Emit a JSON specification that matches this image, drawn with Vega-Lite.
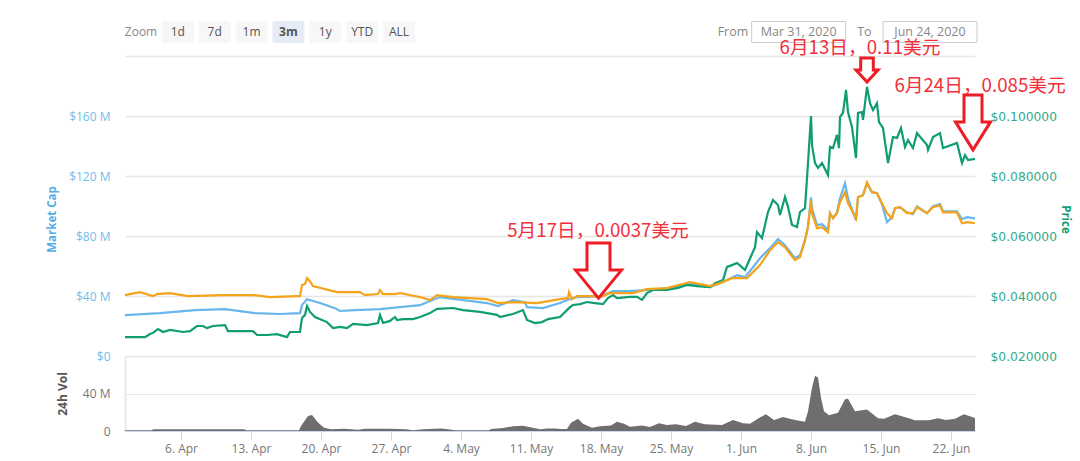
{
  "$schema": "https://vega.github.io/schema/vega-lite/v6.json",
  "background": "white",
  "padding": {"left": 46, "right": 5, "top": 21, "bottom": 25},
  "bounds": "flush",
  "spacing": 0,
  "config": {"view": {"stroke": null}, "font": "Open Sans"},
  "datasets": {
    "cap": [
      {"d":"2020-03-31T09:36","v":27.3},{"d":"2020-04-03T21:36","v":28.6},{"d":"2020-04-07T09:36","v":30.6},{"d":"2020-04-10T09:36","v":31.3},{"d":"2020-04-13T09:36","v":28.6},{"d":"2020-04-15T21:36","v":28.0},{"d":"2020-04-17T21:36","v":28.6},{"d":"2020-04-18T02:24","v":33.9},{"d":"2020-04-18T14:24","v":37.9},{"d":"2020-04-19T21:36","v":35.3},{"d":"2020-04-21T09:36","v":31.9},{"d":"2020-04-21T21:36","v":30.0},{"d":"2020-04-23T09:36","v":30.6},{"d":"2020-04-25T21:36","v":31.3},{"d":"2020-04-27T21:36","v":32.6},{"d":"2020-04-29T21:36","v":33.9},{"d":"2020-04-30T21:36","v":36.6},{"d":"2020-05-01T21:36","v":39.3},{"d":"2020-05-06T14:24","v":35.3},{"d":"2020-05-07T16:48","v":33.3},{"d":"2020-05-09T04:48","v":37.3},{"d":"2020-05-10T09:36","v":35.9},{"d":"2020-05-10T14:24","v":32.6},{"d":"2020-05-12T04:48","v":31.9},{"d":"2020-05-13T21:36","v":35.3},{"d":"2020-05-14T14:24","v":37.3},{"d":"2020-05-15T14:24","v":39.3},{"d":"2020-05-17T21:36","v":39.9},{"d":"2020-05-19T04:48","v":43.3},{"d":"2020-05-20T14:24","v":43.3},{"d":"2020-05-22T14:24","v":43.9},{"d":"2020-05-24T21:36","v":45.3},{"d":"2020-05-26T21:36","v":47.9},{"d":"2020-05-28T21:36","v":45.9},{"d":"2020-05-30T04:48","v":49.3},{"d":"2020-05-31T14:24","v":53.9},{"d":"2020-06-01T09:36","v":52.6},{"d":"2020-06-02T04:48","v":59.2},{"d":"2020-06-02T21:36","v":65.2},{"d":"2020-06-03T21:36","v":71.9},{"d":"2020-06-04T16:48","v":77.9},{"d":"2020-06-05T09:36","v":73.9},{"d":"2020-06-06T09:36","v":65.2},{"d":"2020-06-06T21:36","v":67.2},{"d":"2020-06-07T09:36","v":77.2},{"d":"2020-06-07T16:48","v":86.5},{"d":"2020-06-08T00:00","v":105.8},{"d":"2020-06-08T02:24","v":98.5},{"d":"2020-06-08T14:24","v":87.2},{"d":"2020-06-09T02:24","v":87.9},{"d":"2020-06-09T16:48","v":83.9},{"d":"2020-06-09T21:36","v":95.2},{"d":"2020-06-10T04:48","v":91.8},{"d":"2020-06-10T14:24","v":95.8},{"d":"2020-06-10T21:36","v":105.2},{"d":"2020-06-11T09:36","v":115.1},{"d":"2020-06-11T16:48","v":105.2},{"d":"2020-06-12T12:00","v":90.5},{"d":"2020-06-12T16:48","v":105.8},{"d":"2020-06-13T04:48","v":107.2},{"d":"2020-06-13T14:24","v":115.1},{"d":"2020-06-14T02:24","v":109.2},{"d":"2020-06-14T14:24","v":108.5},{"d":"2020-06-15T02:24","v":101.2},{"d":"2020-06-15T14:24","v":89.2},{"d":"2020-06-16T02:24","v":92.5},{"d":"2020-06-16T09:36","v":98.5},{"d":"2020-06-16T21:36","v":99.2},{"d":"2020-06-17T14:24","v":95.8},{"d":"2020-06-18T04:48","v":94.5},{"d":"2020-06-18T14:24","v":99.8},{"d":"2020-06-19T14:24","v":95.2},{"d":"2020-06-20T04:48","v":99.8},{"d":"2020-06-20T21:36","v":101.2},{"d":"2020-06-21T04:48","v":96.5},{"d":"2020-06-22T14:24","v":96.5},{"d":"2020-06-23T02:24","v":91.2},{"d":"2020-06-23T14:24","v":92.5},{"d":"2020-06-24T09:36","v":91.8}
    ],
    "price": [
      {"d":"2020-03-31T09:36","v":0.0263},{"d":"2020-04-01T09:36","v":0.0263},{"d":"2020-04-02T09:36","v":0.0263},{"d":"2020-04-02T21:36","v":0.0273},{"d":"2020-04-03T04:48","v":0.0277},{"d":"2020-04-03T16:48","v":0.029},{"d":"2020-04-04T04:48","v":0.028},{"d":"2020-04-04T21:36","v":0.0287},{"d":"2020-04-06T04:48","v":0.028},{"d":"2020-04-06T21:36","v":0.0283},{"d":"2020-04-07T14:24","v":0.03},{"d":"2020-04-08T04:48","v":0.03},{"d":"2020-04-08T14:24","v":0.0293},{"d":"2020-04-09T04:48","v":0.03},{"d":"2020-04-10T09:36","v":0.0303},{"d":"2020-04-10T16:48","v":0.0283},{"d":"2020-04-11T14:24","v":0.0283},{"d":"2020-04-13T04:48","v":0.0283},{"d":"2020-04-13T14:24","v":0.027},{"d":"2020-04-14T14:24","v":0.027},{"d":"2020-04-15T14:24","v":0.0273},{"d":"2020-04-16T14:24","v":0.0263},{"d":"2020-04-16T21:36","v":0.028},{"d":"2020-04-17T21:36","v":0.028},{"d":"2020-04-18T02:24","v":0.0327},{"d":"2020-04-18T09:36","v":0.0337},{"d":"2020-04-18T14:24","v":0.0367},{"d":"2020-04-18T21:36","v":0.0347},{"d":"2020-04-19T09:36","v":0.033},{"d":"2020-04-20T14:24","v":0.0313},{"d":"2020-04-21T04:48","v":0.0293},{"d":"2020-04-21T21:36","v":0.0297},{"d":"2020-04-22T14:24","v":0.0293},{"d":"2020-04-23T04:48","v":0.0307},{"d":"2020-04-24T14:24","v":0.0303},{"d":"2020-04-25T16:48","v":0.031},{"d":"2020-04-25T21:36","v":0.0337},{"d":"2020-04-26T04:48","v":0.031},{"d":"2020-04-26T21:36","v":0.0317},{"d":"2020-04-27T09:36","v":0.033},{"d":"2020-04-27T14:24","v":0.032},{"d":"2020-04-28T04:48","v":0.0323},{"d":"2020-04-29T04:48","v":0.0323},{"d":"2020-04-29T21:36","v":0.033},{"d":"2020-04-30T21:36","v":0.0343},{"d":"2020-05-01T14:24","v":0.0357},{"d":"2020-05-03T04:48","v":0.036},{"d":"2020-05-04T04:48","v":0.0353},{"d":"2020-05-05T21:36","v":0.0347},{"d":"2020-05-07T14:24","v":0.0337},{"d":"2020-05-07T21:36","v":0.033},{"d":"2020-05-09T04:48","v":0.034},{"d":"2020-05-10T04:48","v":0.0353},{"d":"2020-05-10T14:24","v":0.032},{"d":"2020-05-11T09:36","v":0.031},{"d":"2020-05-12T02:24","v":0.0313},{"d":"2020-05-12T16:48","v":0.0323},{"d":"2020-05-13T21:36","v":0.033},{"d":"2020-05-14T14:24","v":0.0353},{"d":"2020-05-14T21:36","v":0.0363},{"d":"2020-05-15T04:48","v":0.037},{"d":"2020-05-15T21:36","v":0.0373},{"d":"2020-05-16T14:24","v":0.038},{"d":"2020-05-17T04:48","v":0.0377},{"d":"2020-05-18T04:48","v":0.0373},{"d":"2020-05-18T16:48","v":0.0393},{"d":"2020-05-19T04:48","v":0.0403},{"d":"2020-05-19T14:24","v":0.0393},{"d":"2020-05-20T21:36","v":0.0397},{"d":"2020-05-21T14:24","v":0.0397},{"d":"2020-05-22T02:24","v":0.0387},{"d":"2020-05-22T14:24","v":0.041},{"d":"2020-05-23T04:48","v":0.042},{"d":"2020-05-24T14:24","v":0.042},{"d":"2020-05-25T16:48","v":0.0427},{"d":"2020-05-26T14:24","v":0.0437},{"d":"2020-05-27T14:24","v":0.0433},{"d":"2020-05-28T21:36","v":0.043},{"d":"2020-05-29T09:36","v":0.0443},{"d":"2020-05-30T04:48","v":0.0453},{"d":"2020-05-30T14:24","v":0.0497},{"d":"2020-05-31T02:24","v":0.0503},{"d":"2020-05-31T14:24","v":0.051},{"d":"2020-06-01T09:36","v":0.0487},{"d":"2020-06-01T16:48","v":0.051},{"d":"2020-06-02T09:36","v":0.0563},{"d":"2020-06-02T14:24","v":0.0613},{"d":"2020-06-03T02:24","v":0.0593},{"d":"2020-06-03T16:48","v":0.068},{"d":"2020-06-04T04:48","v":0.072},{"d":"2020-06-04T16:48","v":0.0703},{"d":"2020-06-04T21:36","v":0.067},{"d":"2020-06-05T09:36","v":0.073},{"d":"2020-06-05T16:48","v":0.0697},{"d":"2020-06-06T02:24","v":0.0637},{"d":"2020-06-06T14:24","v":0.063},{"d":"2020-06-06T21:36","v":0.068},{"d":"2020-06-07T09:36","v":0.0693},{"d":"2020-06-07T16:48","v":0.0843},{"d":"2020-06-08T00:00","v":0.1},{"d":"2020-06-08T02:24","v":0.0903},{"d":"2020-06-08T09:36","v":0.0843},{"d":"2020-06-08T16:48","v":0.0827},{"d":"2020-06-09T02:24","v":0.0843},{"d":"2020-06-09T16:48","v":0.0803},{"d":"2020-06-09T21:36","v":0.0897},{"d":"2020-06-10T04:48","v":0.0893},{"d":"2020-06-10T14:24","v":0.0937},{"d":"2020-06-10T19:12","v":0.0893},{"d":"2020-06-10T21:36","v":0.0997},{"d":"2020-06-11T04:48","v":0.101},{"d":"2020-06-11T12:00","v":0.1087},{"d":"2020-06-11T16:48","v":0.1013},{"d":"2020-06-12T02:24","v":0.0963},{"d":"2020-06-12T12:00","v":0.086},{"d":"2020-06-12T16:48","v":0.101},{"d":"2020-06-13T02:24","v":0.1013},{"d":"2020-06-13T04:48","v":0.0987},{"d":"2020-06-13T14:24","v":0.1097},{"d":"2020-06-13T21:36","v":0.1043},{"d":"2020-06-14T04:48","v":0.102},{"d":"2020-06-14T14:24","v":0.1043},{"d":"2020-06-14T19:12","v":0.098},{"d":"2020-06-15T04:48","v":0.096},{"d":"2020-06-15T16:48","v":0.0843},{"d":"2020-06-16T04:48","v":0.093},{"d":"2020-06-16T14:24","v":0.0927},{"d":"2020-06-17T00:00","v":0.096},{"d":"2020-06-17T09:36","v":0.0897},{"d":"2020-06-17T16:48","v":0.092},{"d":"2020-06-18T04:48","v":0.0893},{"d":"2020-06-18T14:24","v":0.0943},{"d":"2020-06-19T14:24","v":0.0903},{"d":"2020-06-19T16:48","v":0.0887},{"d":"2020-06-20T04:48","v":0.093},{"d":"2020-06-20T21:36","v":0.0943},{"d":"2020-06-21T04:48","v":0.0893},{"d":"2020-06-22T14:24","v":0.091},{"d":"2020-06-23T02:24","v":0.0843},{"d":"2020-06-23T09:36","v":0.087},{"d":"2020-06-23T16:48","v":0.0853},{"d":"2020-06-24T09:36","v":0.0857}
    ],
    "btc": [
      {"d":"2020-03-31T09:36","v":40.6},{"d":"2020-04-01T21:36","v":42.6},{"d":"2020-04-03T04:48","v":39.9},{"d":"2020-04-03T14:24","v":41.3},{"d":"2020-04-04T21:36","v":41.9},{"d":"2020-04-06T16:48","v":39.9},{"d":"2020-04-10T04:48","v":40.6},{"d":"2020-04-13T04:48","v":40.6},{"d":"2020-04-14T21:36","v":39.3},{"d":"2020-04-17T14:24","v":39.9},{"d":"2020-04-17T21:36","v":39.9},{"d":"2020-04-18T02:24","v":47.3},{"d":"2020-04-18T09:36","v":47.9},{"d":"2020-04-18T14:24","v":51.9},{"d":"2020-04-18T21:36","v":49.9},{"d":"2020-04-19T04:48","v":46.6},{"d":"2020-04-21T14:24","v":42.6},{"d":"2020-04-23T21:36","v":42.6},{"d":"2020-04-24T09:36","v":40.6},{"d":"2020-04-25T16:48","v":41.3},{"d":"2020-04-25T21:36","v":43.9},{"d":"2020-04-26T04:48","v":41.3},{"d":"2020-04-27T09:36","v":41.3},{"d":"2020-04-27T21:36","v":42},{"d":"2020-04-29T21:36","v":39.3},{"d":"2020-04-30T21:36","v":37.3},{"d":"2020-05-01T14:24","v":40.6},{"d":"2020-05-03T04:48","v":39.3},{"d":"2020-05-06T14:24","v":37.9},{"d":"2020-05-07T16:48","v":35.3},{"d":"2020-05-09T04:48","v":35.9},{"d":"2020-05-11T14:24","v":35.3},{"d":"2020-05-13T21:36","v":37.9},{"d":"2020-05-14T16:48","v":38.6},{"d":"2020-05-14T19:12","v":42.6},{"d":"2020-05-15T02:24","v":37.9},{"d":"2020-05-15T14:24","v":39.9},{"d":"2020-05-17T04:48","v":39.9},{"d":"2020-05-17T21:36","v":39.3},{"d":"2020-05-18T21:36","v":41.9},{"d":"2020-05-21T04:48","v":41.9},{"d":"2020-05-22T14:24","v":44.6},{"d":"2020-05-24T14:24","v":45.3},{"d":"2020-05-26T21:36","v":49.3},{"d":"2020-05-28T21:36","v":46.6},{"d":"2020-05-29T21:36","v":48.6},{"d":"2020-05-31T02:24","v":51.9},{"d":"2020-06-01T14:24","v":51.9},{"d":"2020-06-02T04:48","v":55.9},{"d":"2020-06-02T21:36","v":60.6},{"d":"2020-06-03T21:36","v":70.5},{"d":"2020-06-04T16:48","v":75.9},{"d":"2020-06-05T09:36","v":72.5},{"d":"2020-06-06T09:36","v":63.9},{"d":"2020-06-06T21:36","v":65.9},{"d":"2020-06-07T09:36","v":77.2},{"d":"2020-06-07T16:48","v":85.9},{"d":"2020-06-08T00:00","v":103.8},{"d":"2020-06-08T02:24","v":95.2},{"d":"2020-06-08T14:24","v":85.2},{"d":"2020-06-09T02:24","v":85.9},{"d":"2020-06-09T16:48","v":82.5},{"d":"2020-06-09T21:36","v":95.2},{"d":"2020-06-10T04:48","v":91.8},{"d":"2020-06-10T14:24","v":95.2},{"d":"2020-06-10T21:36","v":102.5},{"d":"2020-06-11T09:36","v":109.2},{"d":"2020-06-11T16:48","v":101.8},{"d":"2020-06-12T12:00","v":91.8},{"d":"2020-06-12T16:48","v":105.8},{"d":"2020-06-13T04:48","v":107.2},{"d":"2020-06-13T14:24","v":115.8},{"d":"2020-06-14T02:24","v":109.2},{"d":"2020-06-14T14:24","v":108.5},{"d":"2020-06-15T02:24","v":101.8},{"d":"2020-06-15T14:24","v":95.2},{"d":"2020-06-16T02:24","v":91.8},{"d":"2020-06-16T09:36","v":98.5},{"d":"2020-06-16T21:36","v":99.2},{"d":"2020-06-17T14:24","v":95.2},{"d":"2020-06-18T04:48","v":95.2},{"d":"2020-06-18T14:24","v":99.2},{"d":"2020-06-19T14:24","v":95.2},{"d":"2020-06-20T04:48","v":99.2},{"d":"2020-06-20T21:36","v":100.5},{"d":"2020-06-21T04:48","v":95.8},{"d":"2020-06-22T14:24","v":95.8},{"d":"2020-06-23T02:24","v":88.5},{"d":"2020-06-23T14:24","v":89.2},{"d":"2020-06-24T09:36","v":88.5}
    ],
    "vol": [
      {"d":"2020-03-31T09:36","v":0.7},{"d":"2020-04-03T02:24","v":0.7},{"d":"2020-04-03T04:48","v":1.8},{"d":"2020-04-12T07:12","v":1.8},{"d":"2020-04-12T12:00","v":0.7},{"d":"2020-04-17T19:12","v":0.8},{"d":"2020-04-18T00:00","v":5.3},{"d":"2020-04-18T16:48","v":16},{"d":"2020-04-19T02:24","v":17},{"d":"2020-04-19T16:48","v":9},{"d":"2020-04-20T07:12","v":3.5},{"d":"2020-04-21T00:00","v":2},{"d":"2020-04-22T07:12","v":2.5},{"d":"2020-04-23T16:48","v":1.4},{"d":"2020-04-24T09:36","v":2.5},{"d":"2020-04-26T19:12","v":2.5},{"d":"2020-04-28T12:00","v":1.8},{"d":"2020-04-29T04:48","v":0.7},{"d":"2020-04-30T04:48","v":1.8},{"d":"2020-05-02T00:00","v":2.8},{"d":"2020-05-02T16:48","v":1.8},{"d":"2020-05-03T09:36","v":0.7},{"d":"2020-05-06T19:12","v":0.7},{"d":"2020-05-07T00:00","v":2.1},{"d":"2020-05-08T04:48","v":3.2},{"d":"2020-05-09T04:48","v":5},{"d":"2020-05-10T04:48","v":5.7},{"d":"2020-05-11T07:12","v":3.2},{"d":"2020-05-11T21:36","v":1.8},{"d":"2020-05-12T14:24","v":2.8},{"d":"2020-05-13T09:36","v":2.8},{"d":"2020-05-14T00:00","v":2.1},{"d":"2020-05-14T14:24","v":2.1},{"d":"2020-05-15T00:00","v":8.9},{"d":"2020-05-15T16:48","v":13},{"d":"2020-05-16T04:48","v":7.8},{"d":"2020-05-17T02:24","v":3.6},{"d":"2020-05-17T21:36","v":5},{"d":"2020-05-19T00:00","v":6},{"d":"2020-05-19T14:24","v":10},{"d":"2020-05-20T07:12","v":7.8},{"d":"2020-05-20T21:36","v":4.6},{"d":"2020-05-22T02:24","v":6},{"d":"2020-05-22T21:36","v":4.3},{"d":"2020-05-23T19:12","v":8.2},{"d":"2020-05-24T14:24","v":6.4},{"d":"2020-05-25T12:00","v":7.1},{"d":"2020-05-26T12:00","v":5.3},{"d":"2020-05-27T09:36","v":10},{"d":"2020-05-28T09:36","v":7.1},{"d":"2020-05-30T02:24","v":6.4},{"d":"2020-05-31T04:48","v":11.7},{"d":"2020-06-01T04:48","v":8.2},{"d":"2020-06-01T21:36","v":7.8},{"d":"2020-06-02T19:12","v":14},{"d":"2020-06-03T12:00","v":17.8},{"d":"2020-06-04T07:12","v":11.7},{"d":"2020-06-05T04:48","v":15},{"d":"2020-06-06T09:36","v":11.7},{"d":"2020-06-07T09:36","v":10},{"d":"2020-06-07T16:48","v":21},{"d":"2020-06-08T02:24","v":46},{"d":"2020-06-08T09:36","v":59},{"d":"2020-06-08T16:48","v":57},{"d":"2020-06-09T00:00","v":35.5},{"d":"2020-06-09T07:12","v":21},{"d":"2020-06-09T19:12","v":16.7},{"d":"2020-06-10T16:48","v":19.5},{"d":"2020-06-11T09:36","v":33.8},{"d":"2020-06-11T16:48","v":34.5},{"d":"2020-06-12T09:36","v":21},{"d":"2020-06-13T14:24","v":23},{"d":"2020-06-14T16:48","v":13.5},{"d":"2020-06-15T07:12","v":13.2},{"d":"2020-06-16T09:36","v":17.8},{"d":"2020-06-17T16:48","v":14},{"d":"2020-06-18T09:36","v":11.4},{"d":"2020-06-19T19:12","v":11.4},{"d":"2020-06-20T16:48","v":13.5},{"d":"2020-06-21T12:00","v":11.7},{"d":"2020-06-22T09:36","v":13.2},{"d":"2020-06-23T07:12","v":17.8},{"d":"2020-06-24T09:36","v":14}
    ],
    "notes": [
      {"label":"5月17日，0.0037美元","arrowDate":"2020-05-17T18:00","arrowPrice":0.0393,"textDate":"2020-05-17T16:48","textPrice":0.0617},
      {"label":"6月13日，0.11美元","arrowDate":"2020-06-13T14:24","arrowPrice":0.1113,"textDate":"2020-06-12T21:36","textPrice":0.1227},
      {"label":"6月24日，0.085美元","arrowDate":"2020-06-24T04:48","arrowPrice":0.0887,"textDate":"2020-06-24T21:36","textPrice":0.11}
    ]
  },
  "vconcat": [
    {
      "width": 850,
      "height": 35,
      "resolve": {"scale": {"x": "independent"}},
      "layer": [
        {
          "data": {"values": [{"label":"Zoom"},{"label":"1d"},{"label":"7d"},{"label":"1m"},{"label":"3m"},{"label":"1y"},{"label":"YTD"},{"label":"ALL"}]},
          "encoding": {
            "x": {"field": "label", "type": "nominal", "axis": null, "sort": null,
              "scale": {"type": "point", "padding": 0, "range": [16, 274], "domain": ["Zoom","1d","7d","1m","3m","1y","YTD","ALL"]}}
          },
          "layer": [
            {
              "transform": [{"filter": "datum.label !== 'Zoom'"}],
              "mark": {"type": "rect", "width": 32, "height": 22, "cornerRadius": 2, "yOffset": 11},
              "encoding": {"color": {"condition": {"test": "datum.label === '3m'", "value": "#e6ebf5"}, "value": "#f7f7f7"}}
            },
            {
              "mark": {"type": "text", "fontSize": 12, "yOffset": -6.5, "font": "Open Sans", "fontWeight": {"expr": "datum.label === '3m' ? 'bold' : 'normal'"}},
              "encoding": {
                "text": {"field": "label"},
                "color": {"condition": {"test": "datum.label === 'Zoom'", "value": "#888888"}, "value": "#555555"}
              }
            }
          ]
        },
        {
          "data": {"values": [{"label":"From"},{"label":"Mar 31, 2020"},{"label":"To"},{"label":"Jun 24, 2020"}]},
          "encoding": {
            "x": {"field": "label", "type": "nominal", "axis": null, "sort": null,
              "scale": {"type": "point", "padding": 0, "range": [608, 805], "domain": ["From","Mar 31, 2020","To","Jun 24, 2020"]}}
          },
          "layer": [
            {
              "transform": [{"filter": "datum.label !== 'From' && datum.label !== 'To'"}],
              "mark": {"type": "rect", "width": 94, "height": 21, "fill": "white", "stroke": "#cccccc", "strokeWidth": 1, "yOffset": 11}
            },
            {
              "mark": {"type": "text", "fontSize": 12.5, "color": "#888888", "yOffset": -6.5, "font": "Open Sans"},
              "encoding": {"text": {"field": "label"}}
            }
          ]
        }
      ]
    },
    {
      "width": 850,
      "height": 300,
      "resolve": {"scale": {"y": "independent"}, "axis": {"y": "independent"}},
      "encoding": {
        "x": {"field": "d", "type": "temporal", "axis": null,
          "scale": {"domain": ["2020-03-31T09:36", "2020-06-24T09:36"]}}
      },
      "layer": [
        {
          "data": {"name": "cap"},
          "mark": {"type": "line", "color": "#68b6ec", "strokeWidth": 2.2},
          "encoding": {
            "y": {"field": "v", "type": "quantitative", "title": "Market Cap",
              "scale": {"domain": [0, 200]},
              "axis": {"orient": "left", "values": [0, 40, 80, 120, 160, 200], "grid": true, "gridColor": "#e6e6e6", "gridWidth": 1.5,
                "domain": false, "ticks": false, "labelColor": "#72bdec", "labelFontSize": 12, "labelPadding": 15,
                "labelExpr": "datum.value === 0 ? '$0' : datum.value === 200 ? '' : '$' + datum.value + ' M'",
                "titleColor": "#55ace6", "titleFontSize": 11.5, "titleFontWeight": "bold", "titlePadding": 11, "titleY": 163}}
          }
        },
        {
          "data": {"name": "price"},
          "mark": {"type": "line", "color": "#0f9d74", "strokeWidth": 2.2},
          "encoding": {
            "y": {"field": "v", "type": "quantitative", "title": "Price",
              "scale": {"domain": [0.02, 0.12]},
              "axis": {"orient": "right", "values": [0.02, 0.04, 0.06, 0.08, 0.1, 0.12], "grid": false,
                "domain": false, "ticks": false, "labelColor": "#2fa98c", "labelFont": "DejaVu Sans", "labelFontSize": 12.3, "labelPadding": 15,
                "labelExpr": "datum.value > 0.11 ? '' : '$' + format(datum.value, '.6f')",
                "titleColor": "#0f9d74", "titleFontSize": 11.5, "titleFontWeight": "bold", "titlePadding": 3, "titleY": 163}}
          }
        },
        {
          "data": {"name": "btc"},
          "mark": {"type": "line", "color": "#f5a31a", "strokeWidth": 2.2},
          "encoding": {
            "y": {"field": "v", "type": "quantitative", "axis": null, "scale": {"domain": [0, 200]}}
          }
        },
        {
          "data": {"name": "notes"},
          "mark": {"type": "point", "filled": true, "fill": "white", "stroke": "#ee1c25", "strokeWidth": 3, "opacity": 1, "size": 10000},
          "encoding": {
            "x": {"field": "arrowDate", "type": "temporal"},
            "y": {"field": "arrowPrice", "type": "quantitative", "axis": null, "scale": {"domain": [0.02, 0.12]}},
            "shape": {"field": "label", "type": "nominal", "legend": null,
              "scale": {
                "domain": ["5月17日，0.0037美元", "6月13日，0.11美元", "6月24日，0.085美元"],
                "range": [
                  "M0 0L-0.46 -0.56L-0.23 -0.56L-0.23 -1.1L0.23 -1.1L0.23 -0.56L0.46 -0.56Z",
                  "M0 0L-0.22 -0.24L-0.126 -0.24L-0.126 -0.48L0.126 -0.48L0.126 -0.24L0.22 -0.24Z",
                  "M0 0L-0.35 -0.56L-0.18 -0.56L-0.18 -1.1L0.18 -1.1L0.18 -0.56L0.35 -0.56Z"
                ]}}
          }
        },
        {
          "data": {"name": "notes"},
          "mark": {"type": "text", "color": "#f0303a", "fontSize": 18.7, "font": "Noto Sans CJK SC"},
          "encoding": {
            "x": {"field": "textDate", "type": "temporal"},
            "y": {"field": "textPrice", "type": "quantitative", "axis": null, "scale": {"domain": [0.02, 0.12]}},
            "text": {"field": "label"}
          }
        }
      ]
    },
    {
      "width": 850,
      "height": 75,
      "data": {"name": "vol"},
      "mark": {"type": "area", "color": "#6e6e6e"},
      "encoding": {
        "x": {"field": "d", "type": "temporal", "title": null,
          "scale": {"domain": ["2020-03-31T09:36", "2020-06-24T09:36"]},
          "axis": {
            "values": ["2020-04-06T00:00","2020-04-13T00:00","2020-04-20T00:00","2020-04-27T00:00","2020-05-04T00:00","2020-05-11T00:00","2020-05-18T00:00","2020-05-25T00:00","2020-06-01T00:00","2020-06-08T00:00","2020-06-15T00:00","2020-06-22T00:00"],
            "format": "%-d. %b", "grid": false, "domainColor": "#ccd6eb", "tickColor": "#ccd6eb", "tickSize": 9,
            "labelColor": "#777777", "labelFontSize": 12, "labelPadding": 3}
        },
        "y": {"field": "v", "type": "quantitative", "title": "24h Vol",
          "scale": {"domain": [0, 80]},
          "axis": {"values": [0, 40], "grid": true, "gridColor": "#e6e6e6", "domainColor": "#e6e9f5", "domainWidth": 2, "ticks": false,
            "labelColor": "#777777", "labelFontSize": 12, "labelPadding": 15,
            "labelExpr": "datum.value === 0 ? '0' : datum.value + ' M'",
            "titleColor": "#555555", "titleFontSize": 12, "titleFontWeight": "bold", "titlePadding": 13}
        }
      }
    }
  ]
}
